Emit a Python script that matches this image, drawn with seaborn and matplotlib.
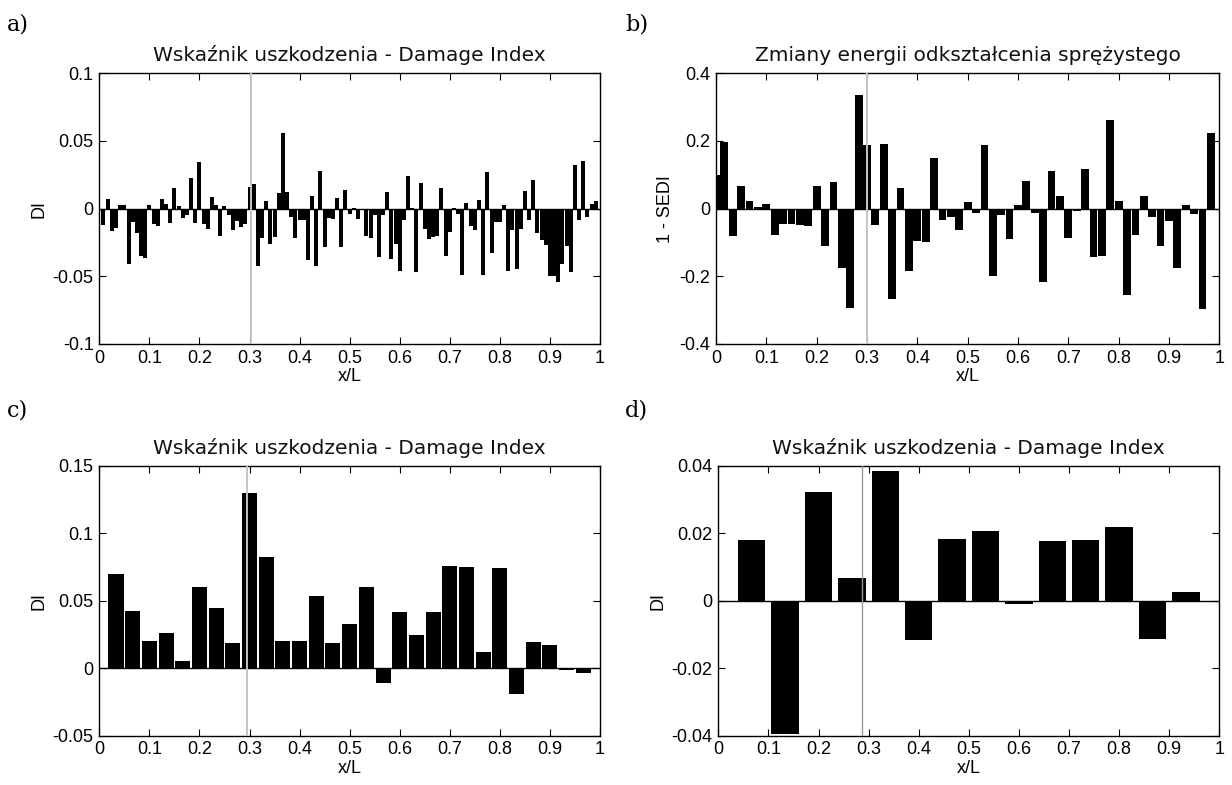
import numpy as np
import matplotlib
matplotlib.use("Agg")
import matplotlib.pyplot as plt
import seaborn as sns

# ---------------- data ----------------
# a) Damage Index, 119 nodes at i/120
a_n = 120
a_values = [
    -0.0120, 0.0074, -0.0166, -0.0144, 0.0025, 0.0025, -0.0408, -0.0099, -0.0180, -0.0347,
    -0.0364, 0.0027, -0.0110, -0.0130, 0.0074, 0.0037, -0.0106, 0.0153, 0.0017, -0.0069,
    -0.0045, 0.0223, -0.0104, 0.0344, -0.0110, -0.0149, 0.0089, 0.0025, -0.0203, 0.0022,
    -0.0045, -0.0156, -0.0089, -0.0136, -0.0110, 0.0158, 0.0183, -0.0426, -0.0215, 0.0054,
    -0.0262, -0.0210, 0.0114, 0.0557, 0.0124, -0.0062, -0.0220, -0.0082, -0.0082, -0.0379,
    0.0092, -0.0426, 0.0277, -0.0287, -0.0069, -0.0079, 0.0082, -0.0287, 0.0141, -0.0037,
    0.0007, -0.0079, -0.0005, -0.0205, -0.0220, -0.0047, -0.0359, -0.0047, 0.0124, -0.0371,
    -0.0260, -0.0463, -0.0082, 0.0238, 0.0007, -0.0470, 0.0193, -0.0149, -0.0223, -0.0210,
    -0.0200, 0.0156, -0.0347, -0.0173, 0.0007, -0.0037, -0.0488, 0.0045, -0.0129, -0.0160,
    0.0062, -0.0488, 0.0272, -0.0329, -0.0099, -0.0099, 0.0025, -0.0458, -0.0156, -0.0448,
    -0.0151, 0.0131, -0.0082, 0.0215, -0.0180, -0.0235, -0.0272, -0.0500, -0.0495, -0.0544,
    -0.0408, -0.0277, -0.0470, 0.0324, -0.0082, 0.0354, -0.0062, 0.0037, 0.0054,
]
a_damage = 0.303

# b) 1 - SEDI, 60 nodes at i/60 (i = 0..59)
b_n = 60
b_values = [
    0.098, 0.198, -0.082, 0.066, 0.024, 0.004, 0.014, -0.079, -0.045, -0.045,
    -0.048, -0.052, 0.066, -0.111, 0.078, -0.176, -0.295, 0.337, 0.189, -0.049,
    0.192, -0.267, 0.062, -0.185, -0.097, -0.100, 0.150, -0.033, -0.025, -0.062,
    0.019, -0.013, 0.189, -0.200, -0.020, -0.089, 0.012, 0.083, -0.013, -0.217,
    0.110, 0.036, -0.087, -0.008, 0.118, -0.144, -0.139, 0.261, 0.024, -0.254,
    -0.079, 0.036, -0.026, -0.111, -0.037, -0.176, 0.012, -0.015, -0.297, 0.224,
]
b_damage = 0.300

# c) Damage Index, 29 nodes at i/30
c_n = 30
c_values = [
    0.0700, 0.0423, 0.0205, 0.0260, 0.0052, 0.0604, 0.0446, 0.0186, 0.1300, 0.0822,
    0.0205, 0.0205, 0.0537, 0.0186, 0.0329, 0.0604, -0.0106, 0.0416, 0.0245, 0.0416,
    0.0762, 0.0752, 0.0121, 0.0740, -0.0188, 0.0198, 0.0176, -0.0015, -0.0035,
]
c_damage = 0.295

# d) Damage Index, 14 nodes at i/15
d_n = 15
d_values = [
    0.0180, -0.0394, 0.0323, 0.0068, 0.0385, -0.0117, 0.0182, 0.0206, -0.0008, 0.0177,
    0.0180, 0.0218, -0.0113, 0.0027,
]
d_damage = 0.286

x_ticks = [0, 0.1, 0.2, 0.3, 0.4, 0.5, 0.6, 0.7, 0.8, 0.9, 1.0]
x_ticklabels = ["0", "0.1", "0.2", "0.3", "0.4", "0.5", "0.6", "0.7", "0.8", "0.9", "1"]

a_yticks = [-0.1, -0.05, 0, 0.05, 0.1]
a_ylabels = ["-0.1", "-0.05", "0", "0.05", "0.1"]
b_yticks = [-0.4, -0.2, 0, 0.2, 0.4]
b_ylabels = ["-0.4", "-0.2", "0", "0.2", "0.4"]
c_yticks = [-0.05, 0, 0.05, 0.1, 0.15]
c_ylabels = ["-0.05", "0", "0.05", "0.1", "0.15"]
d_yticks = [-0.04, -0.02, 0, 0.02, 0.04]
d_ylabels = ["-0.04", "-0.02", "0", "0.02", "0.04"]

title_di = "Wskaźnik uszkodzenia - Damage Index"
title_sedi = "Zmiany energii odkształcenia sprężystego"

# ---------------- drawing ----------------
W, H = 1232, 785
fig = plt.figure(figsize=(W / 100, H / 100), dpi=100)

def rect(l, r, t, b):
    return [l / W, 1 - b / H, (r - l) / W, (b - t) / H]

TICK_FONT = "Liberation Sans"
TITLE_FONT = "DejaVu Sans"

panels = [
    dict(rect=rect(99.3, 600.0, 73.3, 344.0), n=a_n, start=1, vals=a_values, width=0.96,
         damage=a_damage, gcol="#c4c4c4", glw=1.4, yt=a_yticks, yl=a_ylabels,
         ylim=(-0.1, 0.1), ylabel="DI", title=title_di, tsize=14.5, tag="a)", tagpos=(7, 30)),
    dict(rect=rect(716.0, 1219.3, 73.3, 344.0), n=b_n, start=0, vals=b_values, width=0.93,
         damage=b_damage, gcol="#c4c4c4", glw=1.4, yt=b_yticks, yl=b_ylabels,
         ylim=(-0.4, 0.4), ylabel="1 - SEDI", title=title_sedi, tsize=14.5, tag="b)", tagpos=(625, 30)),
    dict(rect=rect(99.3, 600.0, 466.0, 735.7), n=c_n, start=1, vals=c_values, width=0.9,
         damage=c_damage, gcol="#c4c4c4", glw=1.4, yt=c_yticks, yl=c_ylabels,
         ylim=(-0.05, 0.15), ylabel="DI", title=title_di, tsize=14.5, tag="c)", tagpos=(7, 417)),
    dict(rect=rect(718.3, 1219.3, 466.0, 735.7), n=d_n, start=1, vals=d_values, width=0.82,
         damage=d_damage, gcol="#9a9a9a", glw=1.0, yt=d_yticks, yl=d_ylabels,
         ylim=(-0.04, 0.04), ylabel="DI", title=title_di, tsize=14.5, tag="d)", tagpos=(625, 417)),
]

for p in panels:
    ax = fig.add_axes(p["rect"])
    xs = [(p["start"] + i) / p["n"] for i in range(len(p["vals"]))]
    sns.barplot(x=xs, y=p["vals"], native_scale=True, width=p["width"], color="black",
                saturation=1, errorbar=None, linewidth=0, ax=ax)
    ax.axhline(0, color="black", lw=1.0, zorder=3)
    ax.axvline(p["damage"], color=p["gcol"], lw=p["glw"], zorder=4)
    ax.set_xlim(0, 1)
    ax.set_ylim(*p["ylim"])
    ax.set_xticks(x_ticks)
    ax.set_xticklabels(x_ticklabels, fontfamily=TICK_FONT, fontsize=13)
    ax.set_yticks(p["yt"])
    ax.set_yticklabels(p["yl"], fontfamily=TICK_FONT, fontsize=13)
    ax.tick_params(direction="in", top=True, right=True, length=5, width=0.8, pad=4,
                   colors="black")
    for s in ax.spines.values():
        s.set_color("black")
        s.set_linewidth(1.0)
    ax.set_xlabel("x/L", fontfamily=TICK_FONT, fontsize=13, labelpad=1)
    ax.set_ylabel(p["ylabel"], fontfamily=TICK_FONT, fontsize=13, labelpad=4)
    ax.set_title(p["title"], fontfamily=TITLE_FONT, fontsize=p["tsize"], pad=9,
                 color="#111111")
    ax.set_facecolor("white")
    fig.text(p["tagpos"][0] / W, 1 - p["tagpos"][1] / H, p["tag"], fontfamily="DejaVu Serif",
             fontsize=16, ha="left", va="baseline")

fig.savefig("out.png", dpi=100, facecolor="white")
